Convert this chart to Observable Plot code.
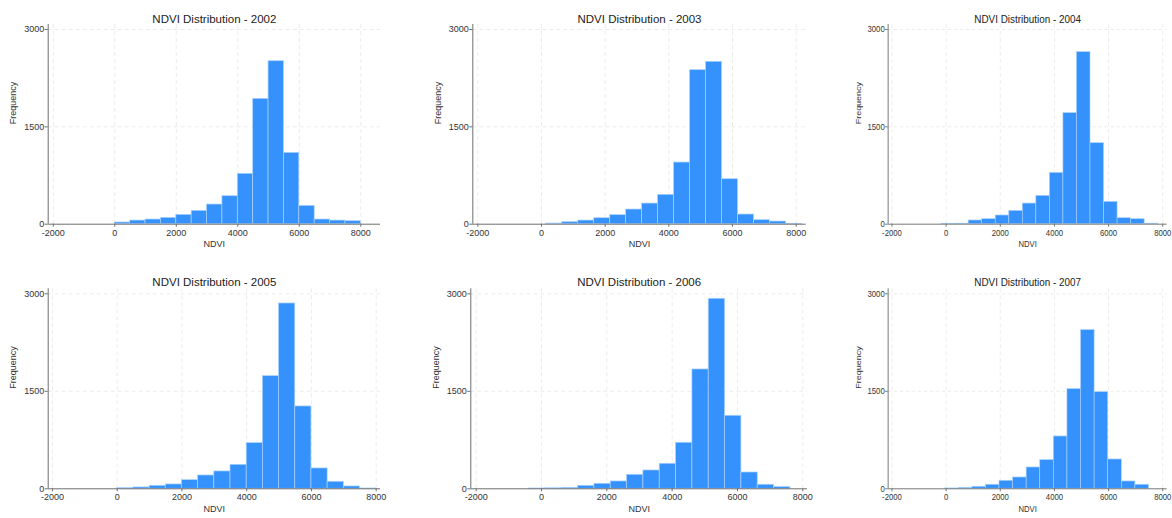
<!DOCTYPE html>
<html><head><meta charset="utf-8">
<script src="https://cdn.jsdelivr.net/npm/d3@7"></script>
<script src="https://cdn.jsdelivr.net/npm/@observablehq/plot@0.6"></script>
<style>
body{margin:0;background:#fff;}
#root{position:relative;width:1172px;height:518px;overflow:hidden;background:#fff;}
.panel{position:absolute;transform-origin:0 0;}
.panel svg{display:block;overflow:visible;max-width:none !important;}
</style></head><body><div id="root"></div>
<script>
// ---- data ----
const years = [2002, 2003, 2004, 2005, 2006, 2007];
const binStart = [0, 150, -170, 0, -380, -40];
const binWidth = [500, 502, 500, 500, 500, 502];
const counts2002 = [26, 56, 72, 98, 144, 205, 303, 431, 776, 1931, 2511, 1099, 282, 72, 56, 46];
const counts2003 = [10, 31, 56, 92, 139, 226, 318, 452, 950, 2373, 2502, 693, 149, 62, 41, 5];
const counts2004 = [5, 8, 57, 77, 134, 205, 318, 437, 791, 1711, 2651, 1248, 344, 92, 77, 8];
const counts2005 = [10, 21, 46, 67, 133, 205, 267, 369, 703, 1733, 2851, 1267, 313, 108, 36, 5];
const counts2006 = [5, 8, 15, 46, 77, 113, 215, 282, 385, 708, 1836, 2923, 1123, 251, 62, 26];
const counts2007 = [5, 15, 31, 62, 123, 174, 328, 441, 805, 1533, 2441, 1487, 451, 113, 62];
const allCounts = [counts2002, counts2003, counts2004, counts2005, counts2006, counts2007];
const xTicks = [-2000, 0, 2000, 4000, 6000, 8000];
const yTicks = [0, 1500, 3000];
const titlePrefix = "NDVI Distribution - ";
const xLabel = "NDVI";
const yLabel = "Frequency";

// ---- layout (pixel geometry of each panel) ----
const rows = [
  {top: 0, height: 259, axisTop: 24, axisBottom: 223.7, y3000: 29, titleDy: -10},
  {top: 259, height: 259, axisTop: 288.3, axisBottom: 488.3, y3000: 293.3, titleDy: -11}
];
const cols = [
  [{left: 0, width: 390, axisLeft: 47.7, axisRight: 380, zeroX: 114.3, x8000: 360.3, s: 1},
   {left: 390, width: 420, axisLeft: 472.3, axisRight: 805.7, zeroX: 541, x8000: 795.7, s: 1},
   {left: 810, width: 362, axisLeft: 887.7, axisRight: 1166.7, zeroX: 945.7, x8000: 1162.3, s: 0.86}],
  [{left: 0, width: 390, axisLeft: 47.7, axisRight: 380, zeroX: 116.7, x8000: 375.7, s: 1},
   {left: 390, width: 420, axisLeft: 470.3, axisRight: 807, zeroX: 541, x8000: 802.3, s: 1},
   {left: 810, width: 362, axisLeft: 887.7, axisRight: 1166.7, zeroX: 945.7, x8000: 1162.3, s: 0.86}]
];

const font = '"Liberation Sans", Arial, Helvetica, sans-serif';
const barFill = "#3592fd";
const barStroke = "#a8d1ff";
const axisColor = "#6f6f6f";
const gridColor = "#ececec";
const root = document.getElementById("root");

years.forEach((year, i) => {
  const r = rows[Math.floor(i / 3)];
  const c = cols[Math.floor(i / 3)][i % 3];
  const table = allCounts[i].map((n, k) => ({
    x1: binStart[i] + k * binWidth[i],
    x2: binStart[i] + (k + 1) * binWidth[i],
    count: n
  }));
  const pxPer = (c.x8000 - c.zeroX) / 8000;
  const xDomain = [(c.axisLeft - c.zeroX) / pxPer, (c.axisRight - c.zeroX) / pxPer];
  const yTop = 3000 * (r.axisBottom - r.axisTop) / (r.axisBottom - r.y3000);
  const W = c.width / c.s;
  const mL = (c.axisLeft - c.left) / c.s;
  const mR = (c.left + c.width - c.axisRight) / c.s;
  const mT = r.axisTop - r.top;
  const mB = r.top + r.height - r.axisBottom;

  const chart = Plot.plot({
    width: W, height: r.height,
    marginLeft: mL, marginRight: mR, marginTop: mT, marginBottom: mB,
    x: {domain: xDomain},
    y: {domain: [0, yTop]},
    style: {fontFamily: font, background: "transparent", overflow: "visible", maxWidth: "none"},
    marks: [
      Plot.gridX(xTicks, {stroke: gridColor, strokeOpacity: 1, strokeDasharray: "4,3"}),
      Plot.gridY([1500, 3000], {stroke: gridColor, strokeOpacity: 1, strokeDasharray: "4,3"}),
      Plot.rectY(table, {x1: "x1", x2: "x2", y: "count", fill: barFill, stroke: barStroke, strokeWidth: 0.7}),
      Plot.ruleY([0], {stroke: axisColor, strokeWidth: 1}),
      Plot.ruleX([xDomain[0]], {stroke: axisColor, strokeWidth: 1}),
      Plot.axisX(xTicks, {tickSize: 3, tickPadding: 2, fontSize: 9, tickFormat: d => String(d), label: null, stroke: axisColor, color: "#333"}),
      Plot.axisY(yTicks, {tickSize: 3, tickPadding: 1, fontSize: 9, tickFormat: d => String(d), label: null, stroke: axisColor, color: "#333"}),
      Plot.text([yLabel], {frameAnchor: "left", dx: -35, rotate: -90, fontSize: 9, fill: "#333"}),
      Plot.text([xLabel], {frameAnchor: "bottom", dy: 23, fontSize: 9, fill: "#333"}),
      Plot.text([titlePrefix + year], {frameAnchor: "top", dy: r.titleDy, fontSize: 11.5, fill: "#222"})
    ]
  });
  const div = document.createElement("div");
  div.className = "panel";
  div.style.left = c.left + "px";
  div.style.top = r.top + "px";
  div.style.width = W + "px";
  div.style.height = r.height + "px";
  if (c.s !== 1) div.style.transform = `scaleX(${c.s})`;
  div.appendChild(chart);
  root.appendChild(div);
});
</script>
</body></html>
